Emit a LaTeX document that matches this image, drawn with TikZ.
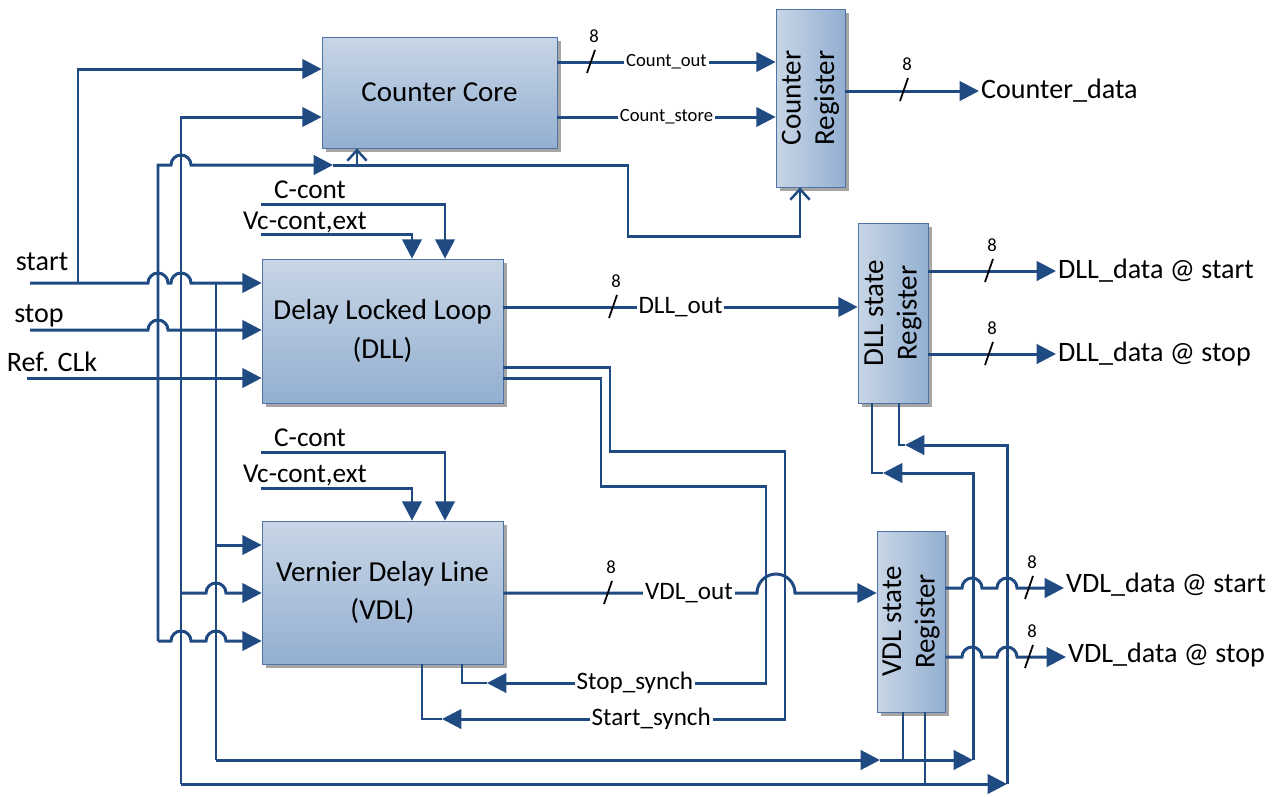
\documentclass[tikz,border=0pt]{standalone}
\usepackage{fontspec}
\setmainfont{Carlito}
\usepackage{xcolor}
\usepackage{tikz}
\usetikzlibrary{calc}
\usetikzlibrary{arrows.meta}
\usetikzlibrary{shadows}
\definecolor{tdc-blue}{RGB}{31, 75, 130}
\definecolor{tdc-edge}{RGB}{80, 115, 165}
\definecolor{tdc-light}{RGB}{200, 214, 230}
\definecolor{tdc-dark}{RGB}{147, 175, 209}
\definecolor{tdc-shadow}{RGB}{165, 165, 165}

\tikzset{
  sig/.style = {tdc-blue, line width=1.7pt},
  thinsig/.style = {tdc-blue, line width=1.1pt},
  arr/.style = {-{Triangle[length=11pt, width=11pt]}},
  clk/.style = {-{Straight Barb[length=6pt, width=11pt, line width=1.4pt]}},
  boxdrop/.style = {drop shadow={shadow xshift=2.5pt, shadow yshift=-2.5pt, fill=tdc-shadow, opacity=1}},
  blockbox/.style = {draw=tdc-edge, thin, top color=tdc-light, bottom color=tdc-dark, boxdrop,
    font=\fontsize{16.5}{22}\selectfont, align=center},
  regbox/.style = {draw=tdc-edge, thin, left color=tdc-light, right color=tdc-dark, boxdrop},
  rottext/.style = {rotate=90, align=center, font=\fontsize{16.5}{19}\selectfont},
  inlbl/.style = {font=\fontsize{16}{19}\selectfont, inner sep=1pt},
  ctlbl/.style = {font=\fontsize{15.5}{18}\selectfont, inner sep=1pt},
  wirelbl/.style = {fill=white, text=black, inner sep=1pt, font=\fontsize{14.3}{17}\selectfont},
  countlbl/.style = {fill=white, text=black, inner sep=1pt, font=\fontsize{10.6}{12}\selectfont},
  bitlbl/.style = {inner sep=0pt, font=\fontsize{10.6}{12}\selectfont},
  busmark/.style = {black, line width=1pt},
}

\begin{document}
\begin{tikzpicture}[x=0.02cm, y=-0.02cm]
  \useasboundingbox (0,0) rectangle (1286,796);

  % blocks
  \node[blockbox, minimum width=4.7cm, minimum height=2.22cm] (core) at (439.5,92.5) {Counter Core};
  \node[regbox, minimum width=1.38cm, minimum height=3.56cm] (creg) at (810.5,98) {};
  \node[rottext] (cregtxt) at (creg) {Counter\\Register};
  \node[blockbox, minimum width=4.82cm, minimum height=2.88cm] (dll) at (382.5,331) {Delay Locked Loop\\(DLL)};
  \node[regbox, minimum width=1.4cm, minimum height=3.6cm] (dreg) at (893,313) {};
  \node[rottext] (dregtxt) at (dreg) {DLL state\\Register};
  \node[blockbox, minimum width=4.82cm, minimum height=2.86cm] (vdl) at (382.5,592.5) {Vernier Delay Line\\(VDL)};
  \node[regbox, minimum width=1.36cm, minimum height=3.62cm] (vreg) at (911,621.5) {};
  \node[rottext] (vregtxt) at (vreg) {VDL state\\Register};

  % inputs
  \node[inlbl] (startlbl) at (42,262) {start};
  \node[inlbl] (stoplbl) at (39,316) {stop};
  \node[inlbl] (reflbl) at (52,362) {Ref. CLk};
  \coordinate (startin) at (30,283);
  \coordinate (stopin) at (30,330);
  \coordinate (refin) at (27,378);

  % start
  \draw[sig, arr] (startin) -- (148,283) arc[start angle=180, end angle=360, radius=10]
    -- (171,283) arc[start angle=180, end angle=360, radius=10] -- (dll.west |- startin);
  \draw[sig, arr] (78,283) |- (core.west |- 0,69);
  \draw[sig] (216,283) -- (216,760);
  \draw[sig, arr] (216,545) -- (vdl.west |- 0,545);
  \draw[sig, arr] (216,760) -- (880,760);
  \draw[sig, arr] (880,760) -- (973,760);
  \draw[sig, arr] (973,760) -- (973,473) -- (883,473);
  \draw[thinsig] (883,473) -| (dreg.south -| 872,0);
  \draw[thinsig] (vreg.south -| 903,0) -- (903,760);

  % stop
  \draw[sig, arr] (stopin) -- (148,330) arc[start angle=180, end angle=360, radius=10] -- (dll.west |- stopin);
  \draw[sig, arr] (181,784) -- (181,117) -- (core.west |- 0,117);
  \draw[sig, arr] (181,593) -- (206,593) arc[start angle=180, end angle=360, radius=10] -- (vdl.west |- 0,593);
  \draw[sig, arr] (181,784) -- (1007,784);
  \draw[sig, arr] (1007,784) -- (1007,445) -- (905,445);
  \draw[thinsig] (905,445) -| (dreg.south -| 899,0);
  \draw[thinsig] (vreg.south -| 925,0) -- (925,784);

  % reference clock
  \draw[sig, arr] (refin) -- (dll.west |- refin);
  \draw[sig, arr] (158,641) -- (158,165) -- (171,165) arc[start angle=180, end angle=360, radius=10] -- (333,165);
  \draw[sig, clk] (333,165) -| (628,236) -| (creg.south -| 800,0);
  \draw[sig, clk] (357,165) -- (core.south -| 357,0);
  \draw[sig, arr] (158,641) -- (171,641) arc[start angle=180, end angle=360, radius=10]
    -- (206,641) arc[start angle=180, end angle=360, radius=10] -- (vdl.west |- 0,641);

  % control voltages
  \node[ctlbl] (dcclbl) at (310,190) {C-cont};
  \node[ctlbl] (dvclbl) at (305,222) {Vc-cont,ext};
  \draw[sig, arr] (261,204) -| (dll.north -| 445,0);
  \draw[sig, arr] (261,234) -| (dll.north -| 412,0);
  \node[ctlbl] (vcclbl) at (310,438) {C-cont};
  \node[ctlbl] (vvclbl) at (305,475) {Vc-cont,ext};
  \draw[sig, arr] (261,452) -| (vdl.north -| 445,0);
  \draw[sig, arr] (261,488) -| (vdl.north -| 412,0);

  % counter outputs
  \draw[sig, arr] (core.east |- 0,62) -- node[countlbl] (cout) {Count\_out} (creg.west |- 0,62);
  \draw[sig, arr] (core.east |- 0,117) -- node[countlbl] (cstore) {Count\_store} (creg.west |- 0,117);
  \node[inlbl, anchor=west] (cdata) at (979,91) {Counter\_data};
  \draw[sig, arr] (creg.east |- cdata.west) -- (cdata.west);

  % DLL and VDL data
  \draw[sig, arr] (dll.east |- 0,307) -- node[wirelbl] (dout) {DLL\_out} (dreg.west |- 0,307);
  \draw[sig, arr] (vdl.east |- 0,593) -- (757,593) arc[start angle=180, end angle=360, radius=19] -- (vreg.west |- 0,593);
  \node[wirelbl] (vout) at (689,593) {VDL\_out};
  \node[inlbl, anchor=west] (dstart) at (1056,271) {DLL\_data @ start};
  \node[inlbl, anchor=west] (dstop) at (1056,354) {DLL\_data @ stop};
  \draw[sig, arr] (dreg.east |- dstart.west) -- (dstart.west);
  \draw[sig, arr] (dreg.east |- dstop.west) -- (dstop.west);
  \node[inlbl, anchor=west] (vstart) at (1064,585) {VDL\_data @ start};
  \node[inlbl, anchor=west] (vstop) at (1066,655) {VDL\_data @ stop};
  \draw[sig, arr] (vreg.east |- 0,588) -- (962,588) arc[start angle=180, end angle=360, radius=10]
    -- (997,588) arc[start angle=180, end angle=360, radius=10] -- (vstart.west |- 0,588);
  \draw[sig, arr] (vreg.east |- 0,657) -- (962,657) arc[start angle=180, end angle=360, radius=10]
    -- (997,657) arc[start angle=180, end angle=360, radius=10] -- (vstop.west |- 0,657);

  % synch lines
  \draw[sig, arr] (dll.east |- 0,367) -| (610,451) -| (785,719)
    -- node[wirelbl, pos=0.39] (startsy) {Start\_synch} (442,719);
  \draw[thinsig] (442,719) -| (vdl.south -| 422,0);
  \draw[sig, arr] (dll.east |- 0,378) -| (601,486) -| (766,683)
    -- node[wirelbl, pos=0.47] (stopsy) {Stop\_synch} (487,683);
  \draw[thinsig] (487,683) -| (vdl.south -| 462,0);

  % bus widths
  \foreach \bx/\by in {591/62, 904/90, 989/271, 989/354, 613/307, 608/593, 1029/588, 1029/657}
  {
    \draw[busmark] (\bx-4,\by+11) -- (\bx+4,\by-12);
    \node[bitlbl] (w\bx-\by) at (\bx+3,\by-26) {8};
  }
\end{tikzpicture}
\end{document}
